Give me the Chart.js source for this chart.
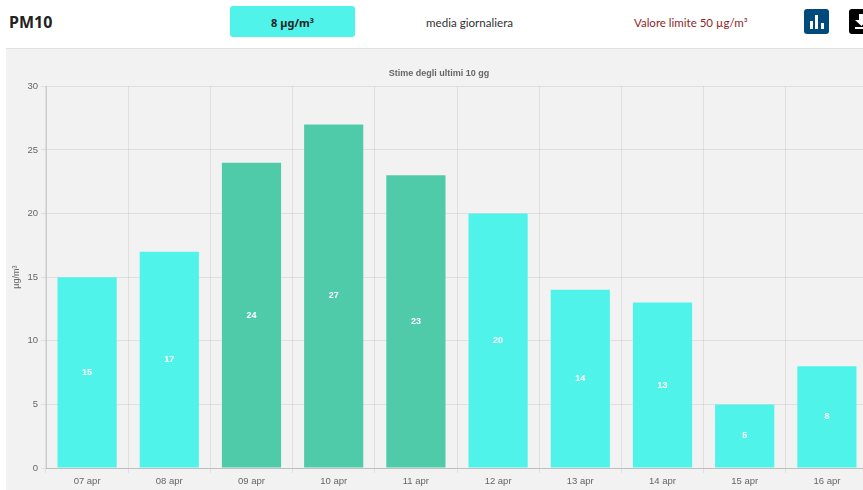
<!DOCTYPE html>
<html lang="it">
<head>
<meta charset="utf-8">
<title>PM10</title>
<script src="https://cdn.jsdelivr.net/npm/chart.js@4"></script>
<style>
    html, body { margin: 0; padding: 0; width: 863px; height: 490px; overflow: hidden; background: #fff; }
    body { position: relative; font-family: "Noto Sans", "Open Sans", sans-serif; }
    .head { position: absolute; white-space: nowrap; }
    #name { left: 9px; top: 11px; font-size: 16px; line-height: 22px; font-weight: 700; color: #222; }
    #current { left: 230px; top: 6px; width: 125px; height: 31px; border-radius: 3px; background: #50f3e9;
        font-size: 11px; line-height: 33px; font-weight: 700; text-align: center; color: #222; }
    #period { left: 426px; top: 14px; font-family: Lato, sans-serif; font-size: 11.6px; line-height: 17px; color: #333; }
    #limit { left: 634px; top: 14px; font-family: Lato, sans-serif; font-size: 11.5px; line-height: 17px; color: #8e1f2a; }
    .icon { position: absolute; top: 9px; width: 25px; height: 25px; border-radius: 3px; }
    #iconBars { left: 804px; background: #004a7c; }
    #iconSave { left: 849px; background: #000; }
    #panel { position: absolute; left: 6px; top: 48px; width: 857px; height: 442px; background: #f2f2f2; border-top: 1px solid #e2e2e2; overflow: hidden; }
    #chartCanvas { position: absolute; left: 0; top: 0; }
</style>
</head>
<body>
<div class="head" id="name">PM10</div>
<div class="head" id="current">8 µg/m³</div>
<div class="head" id="period">media giornaliera</div>
<div class="head" id="limit">Valore limite 50 µg/m³</div>
<svg class="icon" id="iconBars" viewBox="0 0 25 25"><path fill="#fff" d="M6 12h3v8H6zM11 6h3v14h-3zM17 14h3v6h-3z"/></svg>
<svg class="icon" id="iconSave" viewBox="0 0 25 25"><path fill="#fff" d="M10 5h5v6h4l-6.500 6L6 11h4zM6 18h13v2H6z"/></svg>
<div id="panel"><canvas id="chartCanvas" width="871" height="441"></canvas></div>

<script>
const days = ['07 apr', '08 apr', '09 apr', '10 apr', '11 apr', '12 apr', '13 apr', '14 apr', '15 apr', '16 apr'];
const pm10Values = [15, 17, 24, 27, 23, 20, 14, 13, 5, 8];
const yTicks = [0, 5, 10, 15, 20, 25, 30];

const fontName = '"Liberation Sans", Arial, sans-serif';

// Scrive il valore al centro di ogni barra
const barValues = {
    id: 'barValues',
    afterDatasetsDraw(chart) {
        const { ctx } = chart;
        const bars = chart.getDatasetMeta(0).data;
        ctx.save();
        ctx.fillStyle = '#fff';
        ctx.font = 'bold 9px ' + fontName;
        ctx.textAlign = 'center';
        ctx.textBaseline = 'middle';
        bars.forEach((bar, i) => {
            ctx.fillText(pm10Values[i], bar.x, (bar.y + bar.base) / 2);
        });
        ctx.restore();
    }
};

new Chart(document.getElementById('chartCanvas'), {
    type: 'bar',
    data: {
        labels: days,
        datasets: [{
            label: 'PM10',
            data: pm10Values,
            backgroundColor: (c) => c.raw > 20 ? '#50cbaa' : '#50f3e9',
            borderWidth: 0
        }]
    },
    options: {
        responsive: false,
        animation: false,
        layout: { padding: { top: 0, right: 9, bottom: 0, left: 4 } },
        plugins: {
            legend: { display: false },
            tooltip: { enabled: false },
            title: {
                display: true,
                text: 'Stime degli ultimi 10 gg',
                color: '#666',
                font: { family: fontName, size: 9, weight: 'bold' },
                padding: { top: 19, bottom: 7.5 }
            }
        },
        scales: {
            x: {
                grid: { color: 'rgba(0,0,0,0.08)', tickLength: 5 },
                border: { color: 'rgba(0,0,0,0.14)' },
                ticks: { color: '#666', font: { family: fontName, size: 9.5 }, padding: 3, maxRotation: 0 },
                afterFit(scale) { scale.height = 22; }
            },
            y: {
                min: 0,
                max: 30,
                afterBuildTicks(scale) { scale.ticks = yTicks.map((v) => ({ value: v })); },
                grid: { color: 'rgba(0,0,0,0.08)', tickLength: 5 },
                border: { color: 'rgba(0,0,0,0.16)' },
                ticks: { color: '#666', font: { family: fontName, size: 9.5 }, padding: 3 },
                title: {
                    display: true,
                    text: 'µg/m³',
                    color: '#666',
                    font: { family: fontName, size: 9 },
                    padding: { top: 1, bottom: 0 }
                },
                afterFit(scale) { scale.width = 36; }
            }
        }
    },
    plugins: [barValues]
});
</script>
</body>
</html>
